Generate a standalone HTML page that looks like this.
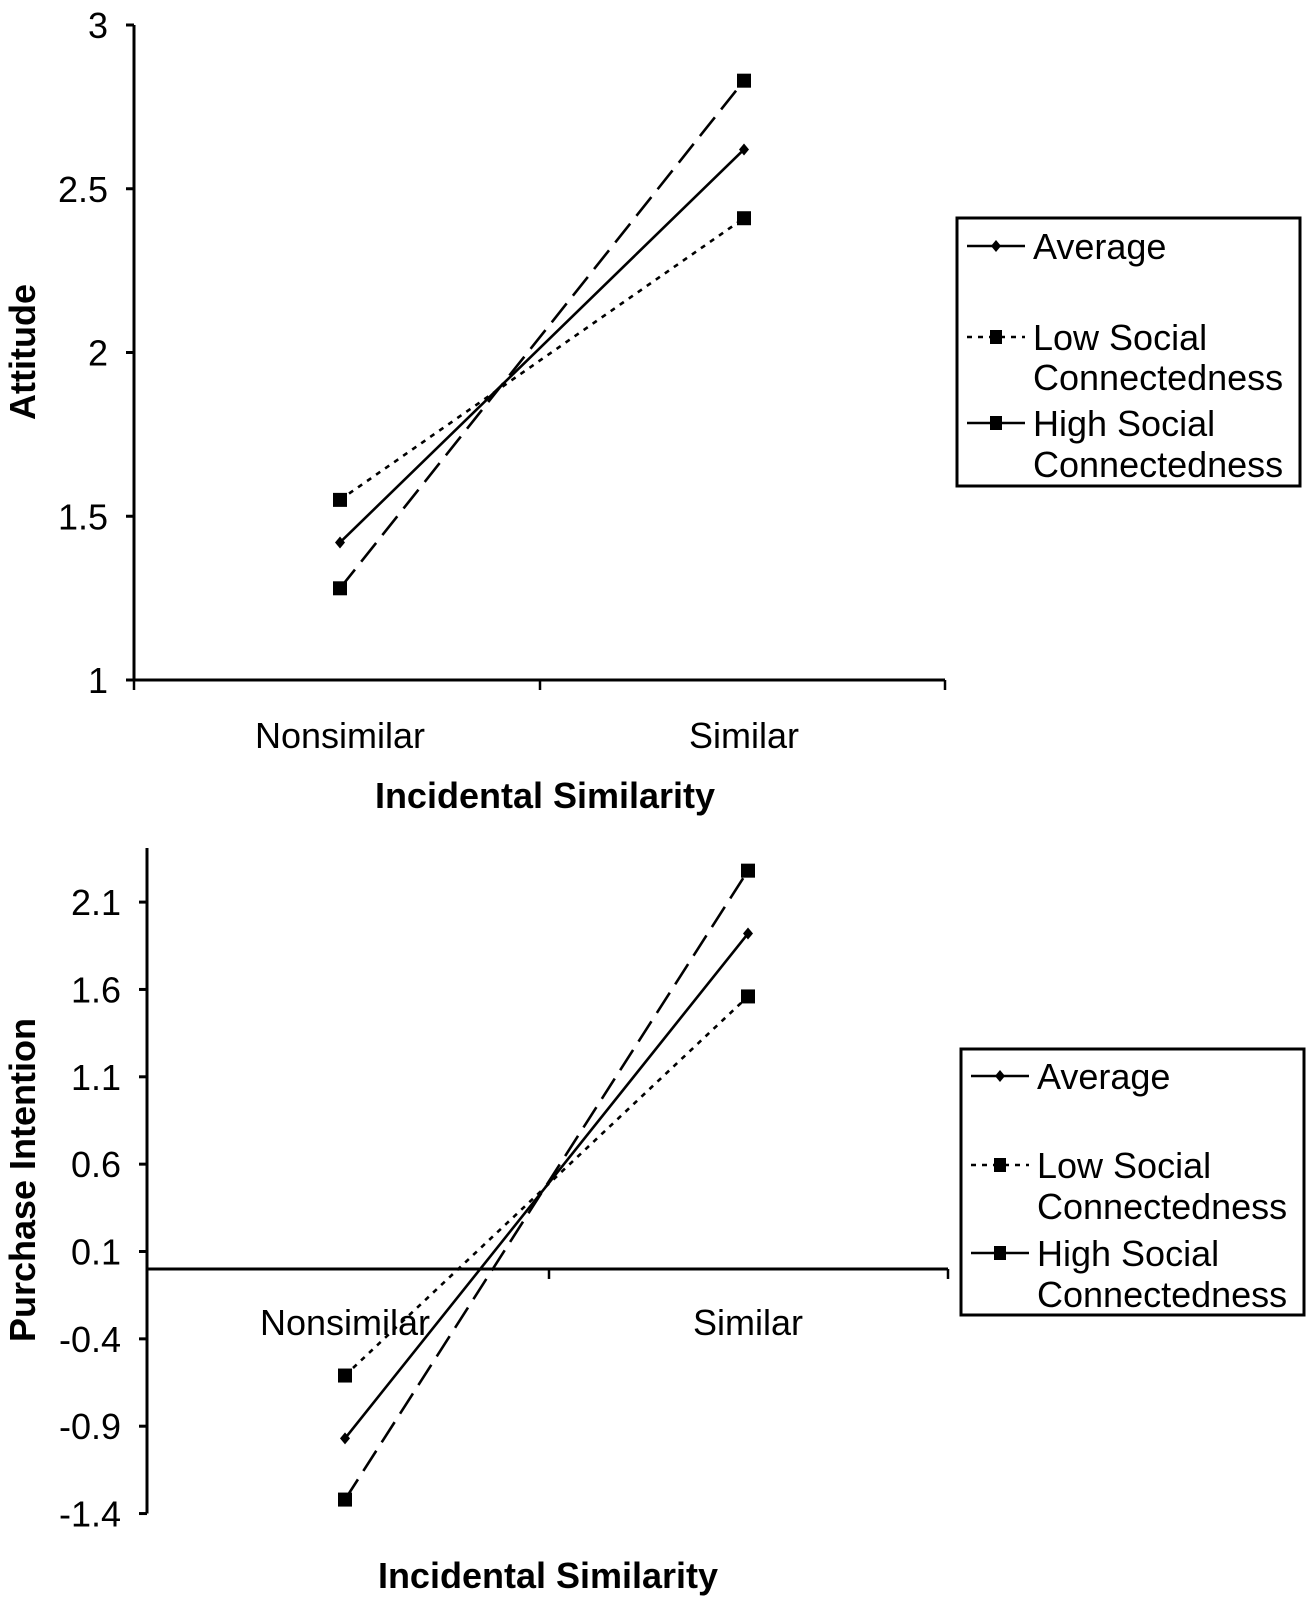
<!DOCTYPE html>
<html><head><meta charset="utf-8"><style>
html,body{margin:0;padding:0;background:#fff;}
svg{display:block;font-family:"Liberation Sans",Arial,sans-serif;}
</style></head><body>
<svg id="fig" width="1311" height="1600" viewBox="0 0 1311 1600"></svg>
<script>
const categories = ["Nonsimilar", "Similar"];
const attAverage = [1.42, 2.62];
const attLow = [1.55, 2.41];
const attHigh = [1.28, 2.83];
const attTicks = [1, 1.5, 2, 2.5, 3];
const piAverage = [-0.97, 1.92];
const piLow = [-0.61, 1.56];
const piHigh = [-1.32, 2.28];
const piTicks = [-1.4, -0.9, -0.4, 0.1, 0.6, 1.1, 1.6, 2.1];

const NS = "http://www.w3.org/2000/svg";
const svg = document.getElementById("fig");
function mk(tag, attrs, parent) {
  const e = document.createElementNS(NS, tag);
  for (const k in attrs) e.setAttribute(k, attrs[k]);
  (parent || svg).appendChild(e);
  return e;
}

function drawChart(cfg) {
  const g = mk("g", {});
  
  
  const y = v => cfg.y0 - (v - cfg.v0) * cfg.unit;
  const xc = i => cfg.cx[i];
  const ya = mk("line", {x1: cfg.ax, x2: cfg.ax, y1: y(cfg.axisTop), y2: y(cfg.axisBottom), stroke: "#000", "stroke-width": 3}, g);
  
  
  cfg.ticks.forEach(t => {
    mk("line", {x1: cfg.ax - 8, x2: cfg.ax, y1: y(t), y2: y(t), stroke: "#000", "stroke-width": 3}, g);
    const tl = mk("text", {x: cfg.ax - 26, y: y(t) + 13, "text-anchor": "end", "font-size": 36}, g);
    tl.textContent = String(t);
    
    
  });
  const xa = mk("line", {x1: cfg.ax, x2: cfg.axEnd, y1: y(cfg.xAxisVal), y2: y(cfg.xAxisVal), stroke: "#000", "stroke-width": 3}, g);
  
  
  [cfg.ax, cfg.mid, cfg.axEnd].forEach(px => mk("line", {x1: px, x2: px, y1: y(cfg.xAxisVal), y2: y(cfg.xAxisVal) + 10, stroke: "#000", "stroke-width": 2.5}, g));
  categories.forEach((c, i) => {
    const t = mk("text", {x: xc(i), y: cfg.catY, "text-anchor": "middle", "font-size": 36}, g);
    t.textContent = c;
    
    
  });
  const series = [
    {vals: cfg.low, dash: "5 6", marker: "square", name: "low-social-connectedness-line"},
    {vals: cfg.high, dash: "24 10", marker: "square", name: "high-social-connectedness-line"},
    {vals: cfg.avg, dash: "", marker: "diamond", name: "average-line"}
  ];
  series.forEach(s => {
    const ln = mk("line", {x1: xc(0), y1: y(s.vals[0]), x2: xc(1), y2: y(s.vals[1]), stroke: "#000", "stroke-width": 2.6, "stroke-dasharray": s.dash}, g);
    
    
    s.vals.forEach((v, i) => {
      let m;
      if (s.marker === "square") m = mk("rect", {x: xc(i) - 7, y: y(v) - 7, width: 14, height: 14, fill: "#000"}, g);
      else m = mk("polygon", {points: `${xc(i)},${y(v)-6} ${xc(i)+5},${y(v)} ${xc(i)},${y(v)+6} ${xc(i)-5},${y(v)}`, fill: "#000"}, g);
      
      
    });
  });
  const xt = mk("text", {x: cfg.xtX, y: cfg.xtY, "text-anchor": "middle", "font-size": 36, "font-weight": "bold"}, g);
  xt.textContent = "Incidental Similarity";
  
  
  const yt = mk("text", {x: 0, y: 0, "text-anchor": "middle", "font-size": 36, "font-weight": "bold", transform: `translate(35,${cfg.ytY}) rotate(-90)`}, g);
  yt.textContent = cfg.yTitle;
  
  
  const L = cfg.leg;
  const lg = mk("g", {}, g);
  
  
  mk("rect", {x: L.x, y: L.y, width: L.w, height: L.h, fill: "#fff", stroke: "#000", "stroke-width": 3}, lg);
  const tx = L.x + 76, lx1 = L.x + 10, lx2 = L.x + 68, mx = L.x + 39;
  const r = L.rows;
  mk("line", {x1: lx1, x2: lx2, y1: r[0], y2: r[0], stroke: "#000", "stroke-width": 2.6}, lg);
  mk("polygon", {points: `${mx},${r[0]-6} ${mx+5},${r[0]} ${mx},${r[0]+6} ${mx-5},${r[0]}`}, lg);
  mk("line", {x1: lx1, x2: lx2, y1: r[1], y2: r[1], stroke: "#000", "stroke-width": 2.6, "stroke-dasharray": "5 6"}, lg);
  mk("rect", {x: mx - 6, y: r[1] - 7, width: 12, height: 14}, lg);
  mk("line", {x1: lx1, x2: lx2, y1: r[3], y2: r[3], stroke: "#000", "stroke-width": 2.6}, lg);
  mk("rect", {x: mx - 6, y: r[3] - 7, width: 12, height: 14}, lg);
  const labels = ["Average", "Low Social", "Connectedness", "High Social", "Connectedness"];
  labels.forEach((t, i) => {
    const e = mk("text", {x: tx, y: r[i] + 13, "font-size": 36}, lg);
    e.textContent = t;
    
    
  });
}

drawChart({
  name: "attitude-chart", y0: 680, v0: 1, unit: 327.5, ax: 134, axEnd: 945, mid: 540,
  axisTop: 3, axisBottom: 1, xAxisVal: 1, ticks: attTicks, cx: [340, 744],
  avg: attAverage, low: attLow, high: attHigh, catY: 748, xtX: 545, xtY: 808,
  yTitle: "Attitude", ytY: 352,
  leg: {x: 957, y: 218, w: 343, h: 268, rows: [246, 337, 377, 423, 464]}
});
drawChart({
  name: "purchase-intention-chart", y0: 1251.5, v0: 0.1, unit: 174.7, ax: 147, axEnd: 948, mid: 549,
  axisTop: 2.41, axisBottom: -1.4, xAxisVal: 0, ticks: piTicks, cx: [345, 748],
  avg: piAverage, low: piLow, high: piHigh, catY: 1335, xtX: 548, xtY: 1588,
  yTitle: "Purchase Intention", ytY: 1180,
  leg: {x: 961, y: 1049, w: 343, h: 266, rows: [1076, 1165, 1206, 1253, 1294]}
});
</script>
</body></html>
